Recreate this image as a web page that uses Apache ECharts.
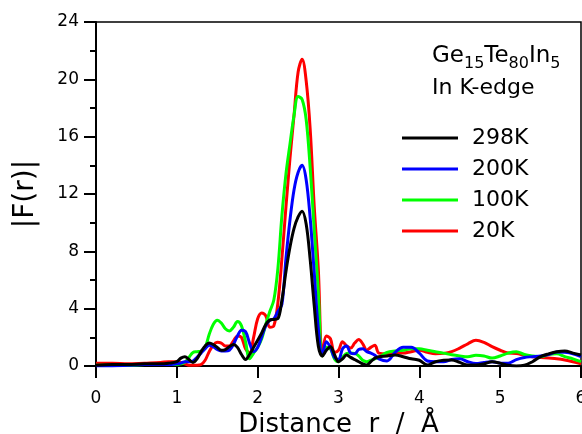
<!DOCTYPE html>
<html>
<head>
<meta charset="utf-8">
<script src="https://cdn.jsdelivr.net/npm/echarts@6/dist/echarts.min.js"></script>
<style>
html,body{margin:0;padding:0;background:#fff;}
#c{width:582px;height:434px;}
</style>
</head>
<body>
<div id="c"></div>
<script>
// Distance r (Å)
var r = [0,0.2,0.4,0.6,0.8,0.9,
1.0,1.05,1.1,1.15,1.2,1.25,1.3,1.35,1.4,1.45,1.5,1.55,1.6,1.65,1.7,1.75,1.8,1.85,1.9,1.95,
2.0,2.05,2.1,2.15,2.2,2.25,2.3,2.35,2.4,2.45,2.5,2.55,2.6,2.65,2.7,2.75,2.8,2.85,2.9,2.95,
3.0,3.05,3.1,3.15,3.2,3.25,3.3,3.35,3.4,3.45,3.5,
3.6,3.7,3.8,3.9,4.0,4.1,4.2,4.3,4.4,4.5,4.6,4.7,4.8,4.9,5.0,5.1,5.2,5.3,5.4,5.5,5.6,5.7,5.8,5.9,6.0];

var y298K = [0.05,0.1,0.1,0.15,0.15,0.2,
0.3,0.55,0.65,0.45,0.25,0.5,1.0,1.4,1.6,1.5,1.3,1.1,1.15,1.35,1.5,1.3,0.8,0.45,0.8,1.3,
1.8,2.3,2.9,3.2,3.25,3.3,4.6,6.6,8.3,9.6,10.4,10.8,9.9,7.4,4.2,1.4,0.7,1.1,1.35,0.8,
0.3,0.5,0.77,0.6,0.45,0.3,0.15,0.07,0.3,0.55,0.65,
0.7,0.77,0.65,0.5,0.4,0.07,0.3,0.4,0.42,0.25,0.07,0.07,0.15,0.3,0.2,0.05,0.0,0.05,0.3,0.65,0.85,1.0,1.05,0.9,0.77];

var y200K = [0.0,0.0,0.05,0.1,0.1,0.1,
0.15,0.2,0.3,0.3,0.35,0.6,0.9,1.2,1.45,1.35,1.15,1.05,1.05,1.1,1.5,2.1,2.5,2.4,1.6,1.0,
1.3,2.05,2.8,3.2,3.3,3.8,4.3,7.5,10.2,12.3,13.5,14.0,13.0,10.3,6.5,2.6,0.8,1.7,1.3,0.6,
0.45,1.2,1.4,0.9,0.85,1.15,1.2,1.0,0.9,0.75,0.5,
0.35,0.95,1.3,1.3,0.9,0.35,0.3,0.3,0.45,0.5,0.3,0.18,0.25,0.3,0.2,0.2,0.45,0.6,0.65,0.7,0.8,0.98,0.95,0.85,0.65];

var y100K = [0.05,0.05,0.05,0.1,0.1,0.1,
0.1,0.15,0.25,0.6,0.95,1.0,1.05,1.3,2.2,2.9,3.2,3.0,2.6,2.45,2.7,3.1,2.8,1.7,0.5,0.9,
1.3,1.9,2.9,3.8,4.6,6.8,10.5,13.4,15.5,17.5,18.8,18.6,17.2,13.8,9.5,5.2,0.7,1.3,1.2,0.5,
0.3,0.6,0.88,0.9,0.88,0.7,0.4,0.3,0.4,0.5,0.6,
0.95,1.05,1.1,1.2,1.2,1.1,1.0,0.9,0.78,0.7,0.65,0.75,0.7,0.55,0.7,0.9,1.0,0.8,0.7,0.65,0.8,0.85,0.65,0.5,0.3];

var y20K = [0.2,0.2,0.15,0.2,0.25,0.3,
0.3,0.25,0.15,0.05,0.05,0.05,0.1,0.4,1.0,1.45,1.65,1.6,1.4,1.4,1.75,2.1,2.0,1.2,0.9,2.0,
3.3,3.7,3.5,2.7,2.8,4.4,7.5,11.1,14.5,17.5,20.5,21.4,19.9,16.5,11.1,6.8,0.7,2.1,1.9,0.95,
1.1,1.7,1.4,1.25,1.6,1.85,1.55,1.1,1.3,1.45,0.9,
0.85,0.95,0.9,1.0,1.1,0.95,0.85,0.88,1.0,1.25,1.55,1.8,1.65,1.35,1.1,0.9,0.88,0.75,0.65,0.6,0.55,0.5,0.42,0.3,0.15];

var seriesNames = ['298K','200K','100K','20K'];
var seriesColors = ['#000000','#0000ff','#00ff00','#ff0000'];
var seriesValues = [y298K, y200K, y100K, y20K];
var xTicks = [0,1,2,3,4,5,6];
var yTicks = [0,4,8,12,16,20,24];

function pairs(ys){ return r.map(function(x,i){ return [x, ys[i]]; }); }

var chart = echarts.init(document.getElementById('c'), null, {renderer:'canvas'});
var FONT = 'DejaVu Sans, Verdana, sans-serif';

var series = [];
for (var k = seriesNames.length - 1; k >= 0; k--) {
  series.push({
    name: seriesNames[k],
    type: 'line',
    data: pairs(seriesValues[k]),
    showSymbol: false,
    smooth: 0.35,
    lineStyle: {color: seriesColors[k], width: 3},
    itemStyle: {color: seriesColors[k]},
    z: 2 + (seriesNames.length - k)
  });
}

chart.setOption({
  animation: false,
  backgroundColor: '#fff',
  grid: {left: 96, right: 1, top: 22, bottom: 68, outerBoundsMode: 'none', containLabel: false,
         show: true, borderColor: '#000', borderWidth: 1.5, backgroundColor: 'transparent'},
  xAxis: {
    type: 'value', min: xTicks[0], max: xTicks[xTicks.length-1], interval: 1,
    name: 'Distance  r  /  Å', nameLocation: 'middle', nameGap: 42,
    nameTextStyle: {fontFamily: FONT, fontSize: 26, color: '#000'},
    axisLine: {show: true, onZero: false, lineStyle: {color: '#000', width: 2}},
    axisTick: {show: true, inside: false, length: 12, lineStyle: {color: '#000', width: 2}},
    axisLabel: {fontFamily: FONT, fontSize: 17, color: '#000', margin: 24},
    splitLine: {show: false}
  },
  yAxis: {
    type: 'value', min: yTicks[0], max: yTicks[yTicks.length-1], interval: 4,
    name: '|F(r)|', nameLocation: 'middle', nameGap: 56, nameRotate: 90,
    nameTextStyle: {fontFamily: FONT, fontSize: 28, color: '#000'},
    axisLine: {show: true, onZero: false, lineStyle: {color: '#000', width: 2}},
    axisTick: {show: true, inside: false, length: 12, lineStyle: {color: '#000', width: 2}},
    minorTick: {show: true, splitNumber: 2, length: 6, lineStyle: {color: '#000', width: 2}},
    axisLabel: {fontFamily: FONT, fontSize: 17, color: '#000', margin: 17},
    splitLine: {show: false}
  },
  legend: {
    data: seriesNames,
    orient: 'vertical',
    left: 402, top: 127, padding: 0,
    itemWidth: 56, itemHeight: 3, itemGap: 9,
    icon: 'rect',
    textStyle: {fontFamily: FONT, fontSize: 22, color: '#000', padding: [0,0,0,9]},
    selectedMode: false
  },
  graphic: [
    {
      type: 'text', left: 432, top: 45,
      style: {
        text: '{a|Ge}{s|15}{a|Te}{s|80}{a|In}{s|5}',
        rich: {
          a: {fontFamily: FONT, fontSize: 23, fill: '#000', lineHeight: 27, verticalAlign: 'bottom'},
          s: {fontFamily: FONT, fontSize: 16, fill: '#000', lineHeight: 23, verticalAlign: 'bottom', padding: [0,0,-4,0]}
        }
      }
    },
    {
      type: 'text', left: 432, top: 77,
      style: {text: 'In K-edge', fontFamily: FONT, fontSize: 22, fill: '#000'}
    }
  ],
  series: series
});
</script>
</body>
</html>
